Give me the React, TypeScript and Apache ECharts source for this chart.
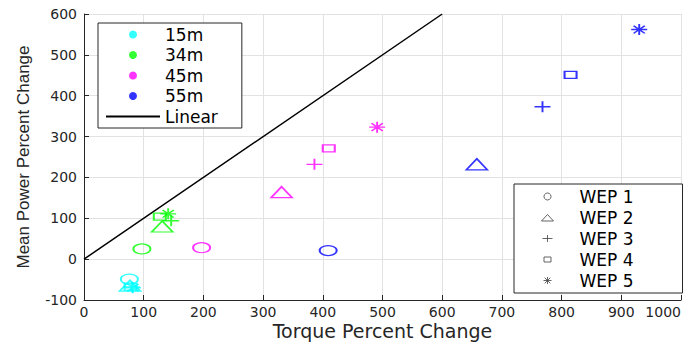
import React, { useEffect, useRef } from "react";
import * as echarts from "echarts";

const heightNames = ["15m", "34m", "45m", "55m"];
const heightColors = ["#00ffff", "#00ff00", "#ff00ff", "#0000ff"];
const wepNames = ["WEP 1", "WEP 2", "WEP 3", "WEP 4", "WEP 5"];

// torque percent change (x) and mean power percent change (y), ordered WEP 1..5
const torque15 = [76, 77, 80, 78, 82];
const power15 = [-49, -65, -68, -67, -70];
const torque34 = [97, 131, 146, 127, 141];
const power34 = [25, 80, 94, 104, 111];
const torque45 = [197, 331, 386, 410, 491];
const power45 = [28, 164, 232, 271, 323];
const torque55 = [409, 658, 768, 815, 930];
const power55 = [21, 232, 373, 451, 562];

const linearX = [0, 600];
const linearY = [0, 600];

const xTicks = [0, 1000, 100];
const yTicks = [-100, 600, 100];

const PLUS = "path://M0,5L10,5M5,0L5,10";
const STAR = "path://M0,5L10,5M5,0L5,10M1.5,1.5L8.5,8.5M1.5,8.5L8.5,1.5";
const wepSymbols = ["circle", "triangle", PLUS, "rect", STAR];
const wepSizes = [
  [17, 10],
  [21, 11],
  [16, 11],
  [12, 7],
  [16, 11],
];
// legend icons drawn inside a 54 x 7 frame (the legend item box) so they are not stretched
const wepLegendSymbols = [
  "circle",
  "path://M0,0M54,7M21,7L27,0.5L33,7Z",
  "path://M0,0M54,7M22,3.5L32,3.5M27,0L27,7",
  "path://M0,0M54,7M23.5,1L30.5,1L30.5,6L23.5,6Z",
  "path://M0,0M54,7M23,3.5L31,3.5M27,0L27,7M24.2,0.7L29.8,6.3M24.2,6.3L29.8,0.7",
];

const TXT = "#262626";

export default function App() {
  const ref = useRef<HTMLDivElement>(null);
  useEffect(() => {
    if (!ref.current) return;
    const chart = echarts.init(ref.current, undefined, { renderer: "svg" });
    const torques = [torque15, torque34, torque45, torque55];
    const powers = [power15, power34, power45, power55];

    const heightSeries = heightNames.map((name, h) => ({
      name,
      type: "scatter",
      z: 3,
      itemStyle: { color: heightColors[h] },
      data: torques[h].map((t, i) => ({
        value: [t, powers[h][i]],
        symbol: wepSymbols[i],
        symbolSize: wepSizes[i],
        itemStyle: {
          color: "rgba(0,0,0,0)",
          borderColor: heightColors[h],
          borderWidth: 1.6,
        },
      })),
    }));

    const wepSeries = wepNames.map((name, i) => ({
      name,
      type: "scatter",
      symbol: wepLegendSymbols[i],
      symbolSize: 7,
      itemStyle: { color: "rgba(0,0,0,0)", borderColor: "#404040", borderWidth: 1 },
      data: [],
    }));

    const legendText = {
      fontFamily: "DejaVu Sans",
      fontSize: 17,
      lineHeight: 17,
      color: "#000",
    };

    chart.setOption({
      animation: false,
      backgroundColor: "#fff",
      grid: {
        left: 84,
        right: 10,
        top: 14,
        bottom: 44,
        containLabel: false,
        outerBoundsMode: "none",
      },
      xAxis: {
        type: "value",
        min: xTicks[0],
        max: xTicks[1],
        interval: xTicks[2],
        name: "Torque Percent Change",
        nameLocation: "middle",
        nameGap: 21,
        nameMoveOverlap: false,
        nameTextStyle: { fontFamily: "DejaVu Sans", fontSize: 19, lineHeight: 20, color: TXT },
        axisLine: { onZero: false, lineStyle: { color: TXT, width: 1 } },
        axisTick: { inside: true, length: 5, lineStyle: { color: TXT } },
        axisLabel: {
          fontFamily: "DejaVu Sans",
          fontSize: 14,
          lineHeight: 14,
          color: TXT,
          margin: 5,
          alignMaxLabel: "right",
          formatter: (v: number) => String(v),
        },
        splitLine: { show: true, lineStyle: { color: "#e2e2e2", width: 1 } },
      },
      yAxis: {
        type: "value",
        min: yTicks[0],
        max: yTicks[1],
        interval: yTicks[2],
        name: "Mean Power Percent Change",
        nameLocation: "middle",
        nameGap: 52,
        nameMoveOverlap: false,
        nameTextStyle: { fontFamily: "Liberation Sans", fontSize: 17, color: TXT },
        axisLine: { show: true, onZero: false, lineStyle: { color: TXT, width: 1 } },
        axisTick: { show: true, inside: true, length: 5, lineStyle: { color: TXT } },
        axisLabel: {
          fontFamily: "DejaVu Sans",
          fontSize: 14,
          color: TXT,
          margin: 7,
          formatter: (v: number) => String(v),
        },
        splitLine: { show: true, lineStyle: { color: "#e2e2e2", width: 1 } },
      },
      legend: [
        {
          data: [
            ...heightNames.map((n) => ({ name: n, icon: "circle" })),
            {
              name: "Linear",
              itemStyle: { color: "rgba(0,0,0,0)", borderWidth: 0, opacity: 0 },
            },
          ],
          orient: "vertical",
          left: 98,
          top: 23,
          padding: [3, 24, 3, 7],
          itemWidth: 54,
          itemHeight: 8,
          itemGap: 3.5,
          borderColor: TXT,
          borderWidth: 1,
          backgroundColor: "#fff",
          itemStyle: { borderWidth: 0 },
          textStyle: legendText,
          selectedMode: false,
        },
        {
          data: wepNames,
          orient: "vertical",
          left: 514,
          top: 184,
          padding: [4, 49, 4, 6],
          itemWidth: 54,
          itemHeight: 7,
          itemGap: 4,
          borderColor: TXT,
          borderWidth: 1,
          backgroundColor: "#fff",
          itemStyle: { borderWidth: 1 },
          textStyle: legendText,
          selectedMode: false,
        },
      ],
      series: [
        {
          name: "Linear",
          type: "line",
          z: 2,
          symbol: "none",
          showSymbol: false,
          lineStyle: { color: "#000", width: 1.5 },
          itemStyle: { color: "#000" },
          data: linearX.map((x, i) => [x, linearY[i]]),
        },
        ...heightSeries,
        ...wepSeries,
      ],
    });
    return () => chart.dispose();
  }, []);
  return (
    <div
      ref={ref}
      style={{ position: "fixed", left: 0, top: 0, width: 691, height: 344, overflow: "hidden" }}
    />
  );
}
